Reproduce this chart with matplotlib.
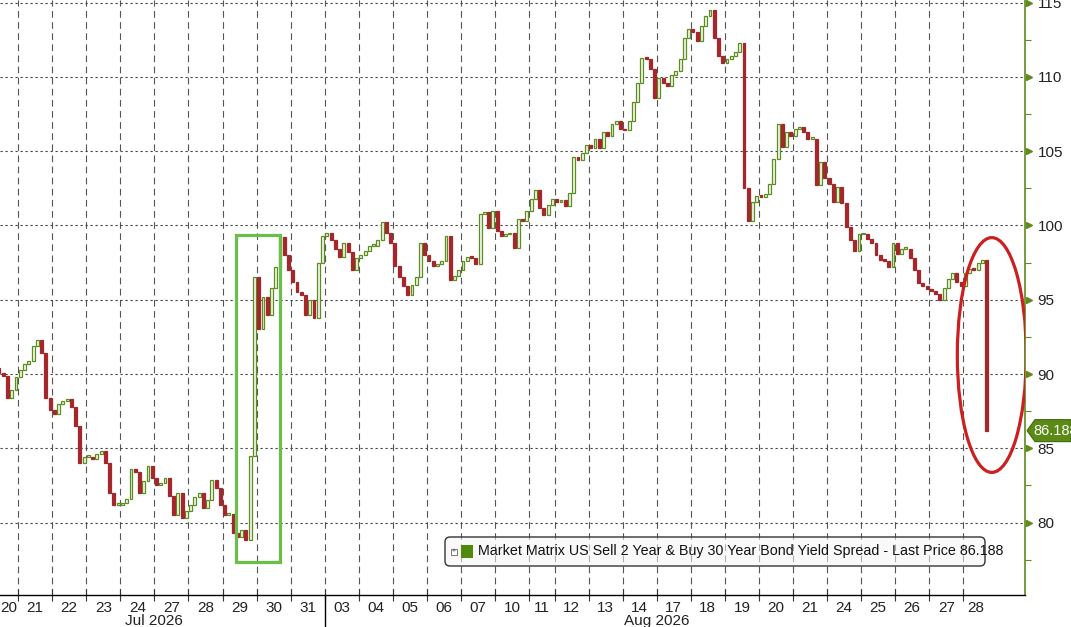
import numpy as np
import matplotlib.pyplot as plt
from matplotlib.patches import Rectangle, Ellipse, FancyBboxPatch, Polygon
from matplotlib.transforms import blended_transform_factory, ScaledTranslation, IdentityTransform

plt.rcParams['font.family'] = ['Liberation Sans', 'DejaVu Sans']

# ---- data (closes, a few bars per session) ----
jul_days = ['20', '21', '22', '23', '24', '27', '28', '29', '30', '31']
aug_days = ['03', '04', '05', '06', '07', '10', '11', '12', '13', '14',
            '17', '18', '19', '20', '21', '24', '25', '26', '27', '28']
month_labels = ['Jul 2026', 'Aug 2026']

jul_closes = [
    [89.5, 90.0, 90.4, 90.1, 89.9, 88.4, 88.9, 89.8],   # 20
    [90.3, 90.7, 90.9, 91.9, 92.3, 91.4, 88.4, 87.6],   # 21
    [87.3, 88.0, 88.2, 88.3, 87.8, 86.5, 84.0, 84.4],   # 22
    [84.4, 84.3, 84.6, 84.8, 84.0, 82.0, 81.2, 81.2],   # 23
    [81.3, 81.6, 83.6, 83.4, 82.0, 82.8, 83.8, 83.0],   # 24
    [82.5, 82.7, 83.0, 81.8, 80.5, 82.0, 80.3, 80.8],   # 27
    [81.2, 81.7, 82.0, 81.0, 81.5, 82.9, 82.3, 81.2],   # 28
    [80.5, 80.6, 79.3, 79.0, 79.5, 78.8, 84.5, 96.5],   # 29
    [93.0, 95.2, 94.0, 95.8, 97.2, 99.2, 98.0, 97.0],   # 30
    [96.2, 95.5, 95.3, 94.0, 95.0, 93.8, 97.5, 99.3],   # 31
]
aug_closes = [
    [99.5, 99.0, 98.4, 97.9, 98.8, 98.2, 97.0, 97.8],        # 03
    [98.0, 98.3, 98.6, 98.6, 99.0, 100.2, 99.5, 98.8],       # 04
    [97.3, 96.5, 95.9, 95.3, 96.0, 96.5, 98.8, 98.0],        # 05
    [97.6, 97.3, 97.4, 97.6, 99.3, 96.3, 96.6, 97.0],        # 06
    [97.6, 97.9, 97.8, 97.4, 100.8, 100.9, 99.8, 101.0],     # 07
    [99.6, 99.3, 99.4, 99.5, 98.5, 100.4, 100.3, 101.0],     # 10
    [101.8, 102.4, 101.2, 100.7, 101.4, 101.8],              # 11
    [101.6, 101.7, 101.3, 102.2, 104.6, 104.4, 104.9, 105.4],  # 12
    [105.2, 105.8, 105.2, 106.3, 106.0, 106.8, 107.0, 106.5],  # 13
    [106.4, 107.0, 108.3, 109.6, 111.3, 111.2, 110.5, 108.6],  # 14
    [109.9, 109.6, 109.4, 110.1, 110.4, 111.2, 112.6, 113.2],  # 17
    [113.0, 112.4, 113.4, 114.1, 114.5, 112.6, 111.4, 110.9],  # 18
    [111.2, 111.4, 111.7, 112.3, 102.5, 100.3, 101.6, 102.0],  # 19
    [101.9, 102.1, 102.8, 104.5, 106.8, 105.3, 106.3, 106.0],  # 20
    [106.5, 106.6, 106.3, 105.8, 105.8, 102.7, 104.3, 103.2],  # 21
    [102.8, 101.6, 102.6, 101.5, 99.9, 99.0, 98.3, 99.4],      # 24
    [99.4, 99.1, 98.8, 98.0, 97.7, 97.6, 97.2, 98.8],          # 25
    [98.1, 98.4, 98.4, 97.8, 97.0, 96.1, 95.9, 95.7],          # 26
    [95.6, 95.4, 95.0, 95.8, 96.4, 96.8, 96.2, 95.9],          # 27
    [96.8, 97.1, 97.0, 97.5, 97.7, 86.188],                    # 28
]
last_price = 86.188
series_name = 'Market Matrix US Sell 2 Year & Buy 30 Year Bond Yield Spread'

GREEN = '#5b8e1e'
RED = '#a3272b'
AXIS_GREEN = '#5f8a1c'
W, H = 1071, 627
XLEFT, XRIGHT = 3.735, 244.5

all_days = jul_closes + aug_closes
closes = np.array([c for day in all_days for c in day])
opens = np.concatenate([[closes[0]], closes[:-1]])
x = np.arange(len(closes)) + 0.5
bounds = np.concatenate([[0], np.cumsum([len(d) for d in all_days])])
centers = (bounds[:-1] + bounds[1:]) / 2
centers[0] = (XLEFT + bounds[1]) / 2   # first session only partly visible

fig = plt.figure(figsize=(W / 100, H / 100), dpi=100)
ax = fig.add_axes([0, 32 / H, 1025 / W, 595 / H])
ax.set_xlim(XLEFT, XRIGHT)
ax.set_ylim(75.13, 115.17)

# candles: up bars hollow green, down bars filled red
up = closes >= opens
body = np.maximum(np.abs(closes - opens), 0.12)
low = np.minimum(opens, closes)
ax.bar(x[up], body[up], bottom=low[up], width=0.68, facecolor='#f4f8ec',
       edgecolor=GREEN, linewidth=0.9, zorder=3)
ax.bar(x[~up], body[~up], bottom=low[~up], width=0.68, facecolor=RED,
       edgecolor=RED, linewidth=0.9, zorder=3)

# grid
ax.set_xticks(bounds[1:-1])
ax.set_xticklabels([])
ax.set_xticks(centers, minor=True)
ax.set_xticklabels(jul_days + aug_days, minor=True, fontsize=11, color='#222222')
ax.tick_params(axis='x', which='major', direction='inout', length=9, width=0.8, color='#333333')
ax.tick_params(axis='x', which='minor', length=0, pad=4)
for b in bounds[1:-1]:
    ax.axvline(b, color='#555555', lw=0.8, dashes=(6, 4), zorder=1)
yt = np.arange(80, 116, 5)
for v in yt:
    ax.axhline(v, color='#444444', lw=0.8, dashes=(2, 2.5), zorder=1)

# right axis
ax.yaxis.tick_right()
ax.set_yticks(yt)
ax.set_yticklabels([str(v) for v in yt], fontsize=11, color='#222222')
ax.set_yticks(np.arange(77.5, 115, 5), minor=True)
ax.tick_params(axis='y', which='major', length=0, pad=9)
ax.tick_params(axis='y', which='minor', direction='out', length=4, width=0.8, color=AXIS_GREEN)
tri = blended_transform_factory(ax.transAxes, ax.transData) + \
    ScaledTranslation(3 / 72, 0, fig.dpi_scale_trans)
ax.plot(np.ones(len(yt)), yt, ls='none', marker='>', ms=5, color=AXIS_GREEN,
        transform=tri, clip_on=False, zorder=6)

for s in ['top', 'left']:
    ax.spines[s].set_visible(False)
ax.spines['right'].set_color(AXIS_GREEN)
ax.spines['right'].set_linewidth(1.2)
ax.spines['bottom'].set_color('black')
ax.spines['bottom'].set_linewidth(1.0)

# month labels and separator
xb = blended_transform_factory(ax.transData, ax.transAxes)
n_jul = len(jul_days)
month_mid = [bounds[n_jul] / 2, (bounds[n_jul] + bounds[-1]) / 2]
for m, lab in zip(month_mid, month_labels):
    ax.text(m, -26 / 595, lab, transform=xb, ha='center', va='center',
            fontsize=11, color='#222222')
ax.plot([bounds[n_jul]] * 2, [0, -40 / 595], transform=xb, color='black',
        lw=1.0, clip_on=False)

# highlight shapes
ax.add_patch(Rectangle((59.17, 77.35), 10.33, 22.0, fill=False,
                       edgecolor='#6abf4b', lw=2.3, zorder=5))
ax.add_patch(Ellipse((236.7, 91.28), 16.2, 15.8, fill=False,
                     edgecolor='#cc1f1f', lw=2.3, zorder=5))

# last price tag
def px(xp, yp):
    return (xp, H - yp)

ty = 522.6 - (last_price - 80) * 14.86
tag = Polygon([px(1027, ty), px(1035, ty - 11), px(1071, ty - 11),
               px(1071, ty + 11), px(1035, ty + 11)], closed=True,
              facecolor='#5b8a17', edgecolor='#3f6a0c', lw=0.8,
              transform=IdentityTransform())
fig.add_artist(tag)
fig.text(1033 / W, 1 - ty / H, f'{last_price:.3f}', color='white', fontsize=10.5,
         va='center', ha='left')

# legend box
leg = FancyBboxPatch(px(445, 566), 540, 29, boxstyle='round,pad=0,rounding_size=5',
                     facecolor=(0.96, 0.96, 0.96, 0.55), edgecolor='#333333', lw=1.0,
                     transform=IdentityTransform(), zorder=7)
fig.add_artist(leg)
fig.add_artist(Rectangle(px(451, 555), 6, 6, facecolor='white', edgecolor='#777777',
                         lw=0.7, transform=IdentityTransform(), zorder=8))
fig.text(454 / W, 1 - 552 / H, '+', fontsize=5, color='#555555', ha='center',
         va='center', zorder=9)
fig.add_artist(Rectangle(px(461, 558), 12, 13, facecolor='#4f8a0b', edgecolor='none',
                         transform=IdentityTransform(), zorder=8))
fig.text(478 / W, 1 - 551 / H, f'{series_name} - Last Price {last_price:.3f}',
         fontsize=10.3, color='#111111', va='center', ha='left', zorder=9)

fig.savefig('out.png', dpi=100)
